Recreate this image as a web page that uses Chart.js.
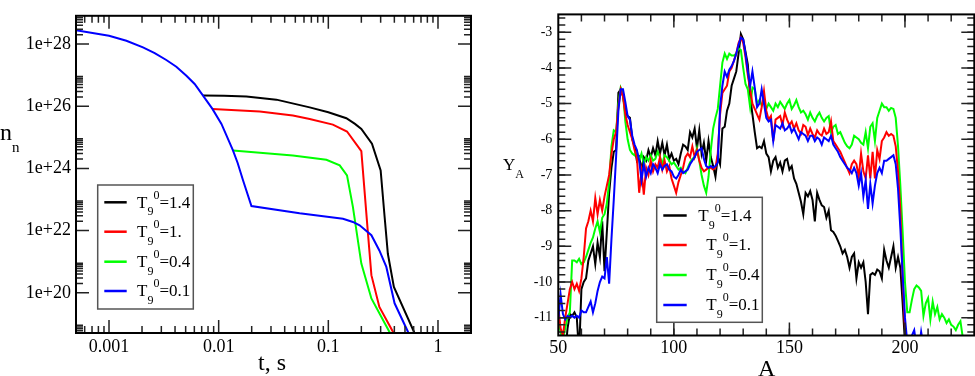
<!DOCTYPE html>
<html>
<head>
<meta charset="utf-8">
<script src="https://cdn.jsdelivr.net/npm/chart.js@4.4.0/dist/chart.umd.min.js"></script>
<style>
  body { margin: 0; background: #fff; }
  #left { position: absolute; left: 0; top: 0; }
  #right { position: absolute; left: 480px; top: 0; }
</style>
</head>
<body>
<canvas id="left" width="480" height="376"></canvas>
<canvas id="right" width="495" height="376"></canvas>
<script>
// ---- data: left panel, neutron density n_n vs time t (s) ----
var tBlack = [7.2e-3, 1.12e-2, 1.79e-2, 3.36e-2, 6.76e-2, 0.1, 0.146, 0.175, 0.2, 0.25, 0.3, 0.326, 0.349, 0.396, 0.612, 0.7];
var nBlack = [2.2e26, 2.18e26, 2.04e26, 1.63e26, 9.2e25, 6.4e25, 4.1e25, 2.7e25, 1.87e25, 6.2e24, 8.6e23, 2.8e22, 1.8e21, 1.55e20, 5e18, 2e18];
var tRed = [8.77e-3, 2.37e-2, 4.75e-2, 6.76e-2, 0.11, 0.148, 0.2, 0.23, 0.247, 0.292, 0.388, 0.45];
var nRed = [8.2e25, 6.8e25, 5.0e25, 3.9e25, 2.57e25, 1.54e25, 3.6e24, 7.9e21, 3.7e20, 3.5e19, 5.6e18, 1.5e18];
var tGreen = [1.35e-2, 4.75e-2, 0.096, 0.127, 0.148, 0.1675, 0.2, 0.247, 0.36, 0.42];
var nGreen = [3.8e24, 2.6e24, 1.9e24, 1.25e24, 6e23, 5.8e22, 8.7e20, 6.6e19, 5.6e18, 1.5e18];
var tBlue = [5e-4, 1.0e-3, 1.44e-3, 2.04e-3, 2.61e-3, 3.33e-3, 4.11e-3, 5.08e-3, 6.04e-3, 7.2e-3, 8.77e-3, 1.06e-2, 1.35e-2, 1.49e-2, 1.67e-2, 1.99e-2, 5.47e-2, 0.136, 0.1675, 0.193, 0.247, 0.292, 0.338, 0.402, 0.532, 0.6];
var nBlue = [2.8e28, 1.85e28, 1.28e28, 7.8e27, 5.1e27, 3.07e27, 1.87e27, 9.6e26, 5.2e26, 2.19e26, 8.2e25, 2.7e25, 3.8e24, 1.5e24, 4.1e23, 6.2e22, 3.6e22, 2.4e22, 1.9e22, 1.48e22, 7.1e21, 2.3e21, 6.8e20, 4.6e19, 5.6e18, 2.3e18];

// ---- data: right panel, abundance Y_A (log) vs mass number A ----
var massNumbers = [50, 51, 52, 53, 54, 55, 56, 57, 58, 59, 60, 61, 62, 63, 64, 65, 66, 67, 68, 69,
  70, 71, 72, 73, 74, 75, 76, 77, 78, 79, 80, 81, 82, 83, 84, 85, 86, 87, 88, 89,
  90, 91, 92, 93, 94, 95, 96, 97, 98, 99, 100, 101, 102, 103, 104, 105, 106, 107, 108, 109,
  110, 111, 112, 113, 114, 115, 116, 117, 118, 119, 120, 121, 122, 123, 124, 125, 126, 127, 128, 129,
  130, 131, 132, 133, 134, 135, 136, 137, 138, 139, 140, 141, 142, 143, 144, 145, 146, 147, 148, 149,
  150, 151, 152, 153, 154, 155, 156, 157, 158, 159, 160, 161, 162, 163, 164, 165, 166, 167, 168, 169,
  170, 171, 172, 173, 174, 175, 176, 177, 178, 179, 180, 181, 182, 183, 184, 185, 186, 187, 188, 189,
  190, 191, 192, 193, 194, 195, 196, 197, 198, 199, 200, 201, 202, 203, 204, 205, 206, 207, 208, 209,
  210, 211, 212, 213, 214, 215, 216, 217, 218, 219, 220, 221, 222, 223, 224, 225, 226];
var yBlack = [-12.0, -11.6, -12.0, -12.0, -11.3, -10.9, -10.95, -10.85, -11.0, -12.0,
  -10.2, -10.0, -9.9, -9.4, -9.2, -9.0, -9.5, -8.9, -9.3, -8.3,
  -9.7, -8.6, -7.5, -6.8, -6.35, -6.3, -4.7, -4.6, -4.8, -5.2,
  -5.35, -5.4, -6.0, -6.2, -6.6, -6.5, -6.85, -6.5, -6.6, -6.3,
  -6.5, -6.25, -6.45, -6.05, -6.4, -6.1, -6.45, -6.15, -6.55, -6.4,
  -6.6, -6.55, -6.7, -6.4, -6.15, -6.2, -6.3, -5.8, -5.95, -5.7,
  -6.25, -5.75, -6.4, -6.1, -6.6, -6.05, -6.5, -6.75, -7.05, -6.5,
  -6.7, -5.7, -5.65, -5.2, -5.0, -4.5, -4.3, -4.1, -3.6, -3.05,
  -3.2, -3.55, -3.9, -4.8, -5.3, -5.8, -6.25, -6.2, -6.25, -6.05,
  -6.4, -6.5, -6.9, -6.6, -6.5, -6.8, -6.65, -6.9, -6.6, -6.55,
  -6.85, -6.75, -7.1, -7.25, -7.5, -7.75, -8.1, -7.5, -7.6, -7.45,
  -7.7, -8.3, -7.5, -7.7, -7.85, -7.9, -8.2, -8.0, -8.55, -8.6,
  -8.7, -8.85, -9.0, -9.2, -9.1, -9.3, -9.6, -9.3, -9.2, -9.9,
  -9.45, -9.6, -9.45, -10.0, -10.9, -9.8, -9.75, -9.8, -9.65, -9.7,
  -9.9, -9.1, -9.4, -9.6, -9.3, -9.0, -9.6, -9.3, -9.6, -10.6,
  -11.7, -12.5];
var yRed = [-10.7, -11.3, -11.5, -11.0, -10.6, -10.2, -10.0, -10.2, -10.05, -10.25,
  -9.9, -9.3, -8.5, -8.3, -8.0, -8.3, -7.65, -8.1, -7.7, -8.0,
  -7.6, -7.3, -7.0, -6.4, -6.0, -5.8, -5.1, -4.6, -4.8, -5.3,
  -5.6, -5.8, -6.0, -6.3, -6.5, -7.5, -6.9, -7.55, -6.8, -7.0,
  -6.6, -6.9, -6.7, -6.8, -6.5, -6.85, -6.6, -6.9, -6.75, -7.1,
  -7.3, -7.5, -7.2, -7.0, -6.8, -6.5, -6.4, -6.5, -6.2, -6.5,
  -6.3, -6.6, -6.8, -6.9, -6.85, -6.8, -6.8, -6.85, -6.8, -6.4,
  -5.3, -4.7, -4.6, -4.5, -4.1, -4.0, -3.8, -3.6, -3.3, -3.15,
  -3.3, -3.7, -4.2, -4.6, -5.0, -5.15, -5.3, -5.45, -5.1, -4.65,
  -5.2, -5.45, -5.35, -6.05, -5.45, -5.4, -5.35, -5.6, -5.25, -5.45,
  -5.6, -5.5, -5.7, -5.55, -5.75, -5.85, -5.6, -5.65, -5.88, -5.7,
  -5.85, -5.95, -5.75, -5.85, -5.9, -5.7, -5.85, -5.8, -5.5, -6.05,
  -6.15, -6.25, -6.35, -6.5, -6.65, -6.8, -6.95, -6.7, -6.6, -6.7,
  -7.05, -6.4, -6.9, -7.1, -6.45, -7.1, -6.35, -7.1, -6.3, -6.55,
  -6.05, -5.95, -5.8, -5.9, -5.85, -5.9, -6.2, -6.9, -8.0, -9.9,
  -11.3, -12.5];
var yGreen = [-11.1, -11.4, -11.6, -11.3, -11.0, -10.85, -9.4, -9.4, -9.45, -9.35,
  -9.5, -9.45, -9.3, -9.1, -8.9, -8.75, -8.5, -8.3, -8.6, -8.2,
  -8.1, -7.8, -7.2, -6.2, -5.75, -5.8, -5.0, -4.55, -4.7, -5.5,
  -6.0, -6.3, -6.4, -6.45, -6.35, -6.6, -6.4, -6.7, -6.5, -6.6,
  -6.45, -6.6, -6.55, -6.35, -6.5, -6.7, -6.45, -6.5, -6.6, -6.7,
  -6.65, -6.75, -6.85, -6.8, -6.9, -6.95, -6.8, -6.65, -6.55, -6.5,
  -6.25, -6.6, -7.0, -7.3, -7.5, -7.05, -6.3, -5.7, -5.4, -5.15,
  -4.5, -3.85, -3.6, -3.75, -3.6, -3.65, -3.65, -3.6, -3.45, -3.5,
  -4.0, -4.45, -4.6, -5.1, -4.55, -4.6, -5.0, -4.9, -5.05, -4.95,
  -5.15, -5.0, -5.1, -5.2, -5.0, -5.1, -4.95, -5.05, -5.15, -5.0,
  -4.9, -5.15, -5.05, -4.9, -5.1, -5.25, -5.2, -5.3, -5.45, -5.25,
  -5.4, -5.5, -5.35, -5.25, -5.4, -5.5, -5.4, -5.35, -5.8, -5.65,
  -5.6, -5.85, -5.8, -5.95, -6.1, -6.2, -6.25, -6.15, -5.9, -5.95,
  -6.0, -6.1, -6.15, -5.8, -6.25, -5.65, -5.55, -6.05, -5.4, -5.2,
  -5.0, -5.1, -5.1, -5.2, -5.12, -5.15, -5.4, -6.2, -7.3, -8.6,
  -10.0, -10.85, -10.85, -10.5, -10.2, -10.1, -10.15, -10.25, -10.95, -10.6,
  -10.45, -11.05, -10.55, -10.9, -10.7, -11.05, -10.9, -11.0, -11.15, -11.05,
  -11.2, -11.25, -11.35, -11.2, -11.1, -11.55, -11.7];
var yBlue = [-11.05, -10.35, -10.9, -11.05, -10.95, -11.0, -10.95, -11.0, -10.95, -11.0,
  -10.8, -10.85, -10.85, -10.7, -10.55, -10.85, -10.6, -10.25, -10.0, -9.85,
  -9.9, -9.3, -10.05, -8.8, -7.7, -6.5, -5.2, -4.6, -4.6, -4.95,
  -5.35, -5.45, -5.9, -6.15, -6.3, -6.6, -7.15, -6.7, -7.05, -6.8,
  -6.95, -6.7, -6.8, -6.95, -6.7, -6.85, -6.75, -6.7, -6.85, -6.9,
  -7.05, -7.1, -7.0, -6.85, -6.95, -6.9, -6.85, -6.7, -6.6, -6.5,
  -6.35, -6.3, -6.25, -6.55, -6.75, -6.8, -6.75, -6.8, -6.75, -6.65,
  -5.1, -4.5, -4.1, -4.25, -4.05, -3.95, -3.8, -3.6, -3.35, -3.15,
  -3.2, -3.6, -4.1, -4.5, -4.1, -4.55, -5.1, -5.0, -4.6, -5.0,
  -5.4, -5.5, -5.45, -6.05, -5.6, -5.65, -5.7, -5.55, -5.75, -5.7,
  -5.6, -5.8, -5.7, -5.85, -6.0, -5.8, -5.85, -5.9, -6.05, -5.9,
  -5.9, -6.05, -5.95, -6.0, -6.15, -5.95, -6.0, -6.05, -5.9, -6.15,
  -6.25, -6.35, -6.5, -6.6, -6.7, -6.8, -6.85, -6.95, -6.8, -6.95,
  -7.3, -6.95, -7.6, -7.15, -7.95, -7.25, -7.8, -7.3, -6.95, -6.8,
  -6.95, -6.6, -6.6, -6.55, -6.5, -6.45, -6.7, -7.4, -8.5, -9.8,
  -11.0, -11.7, -11.8, -11.5, -11.35, -11.8, -11.9, -11.4, -11.8];

// legend / axis labels
var tempLabels = ['1.4', '1.', '0.4', '0.1'];
var seriesColors = ['#000000', '#ff0000', '#00ff00', '#0000ff'];
var leftXTicks = [0.001, 0.01, 0.1, 1];
var leftYTicks = [1e20, 1e22, 1e24, 1e26, 1e28];
var rightXTicks = [50, 100, 150, 200];
var rightYTicks = [-11, -10, -9, -8, -7, -6, -5, -4, -3];

var FONT = '"Liberation Serif", "Times New Roman", serif';

// minor tick positions for the log axes
function logMinors(fromExp, toExp, step) {
  var out = [];
  for (var e = fromExp; e <= toExp; e += step) {
    for (var k = 2; k <= 9; k++) out.push(k * Math.pow(10, e));
  }
  return out;
}
function linMinors(a, b, step) {
  var out = [];
  for (var v = a; v <= b + 1e-9; v += step) out.push(Math.round(v * 100) / 100);
  return out;
}

function drawRich(ctx, x, y, parts) {
  var cx = x;
  parts.forEach(function (p) {
    ctx.font = p[1] + 'px ' + FONT;
    ctx.fillText(p[0], cx, y + p[2]);
    cx += ctx.measureText(p[0]).width;
  });
}

// frame + inward ticks on all four sides
var frameTicks = {
  id: 'frameTicks',
  afterDatasetsDraw: function (chart, args, opts) {
    var ctx = chart.ctx, a = chart.chartArea;
    var xs = chart.scales.x, ys = chart.scales.y;
    ctx.save();
    ctx.strokeStyle = '#222';
    ctx.lineWidth = 1.5;
    function tx(v, len) {
      var p = xs.getPixelForValue(v);
      if (p < a.left + 1 || p > a.right - 1) return;
      ctx.beginPath();
      ctx.moveTo(p, a.bottom); ctx.lineTo(p, a.bottom - len);
      ctx.moveTo(p, a.top); ctx.lineTo(p, a.top + len);
      ctx.stroke();
    }
    function ty(v, len) {
      var p = ys.getPixelForValue(v);
      if (p < a.top + 1 || p > a.bottom - 1) return;
      ctx.beginPath();
      ctx.moveTo(a.left, p); ctx.lineTo(a.left + len, p);
      ctx.moveTo(a.right, p); ctx.lineTo(a.right - len, p);
      ctx.stroke();
    }
    opts.xMinor.forEach(function (v) { tx(v, opts.minorLen); });
    opts.xMajor.forEach(function (v) { tx(v, opts.majorLen); });
    opts.yMinor.forEach(function (v) { ty(v, opts.minorLen); });
    opts.yMajor.forEach(function (v) { ty(v, opts.majorLen); });
    ctx.strokeStyle = '#000';
    ctx.lineWidth = 2;
    ctx.strokeRect(a.left, a.top, a.right - a.left, a.bottom - a.top);
    ctx.restore();
  }
};

// boxed legend with T_9^0 labels, plus axis titles
var annotate = {
  id: 'annotate',
  afterDraw: function (chart, args, opts) {
    var ctx = chart.ctx;
    ctx.save();
    var b = opts.box;
    ctx.fillStyle = '#fff';
    ctx.fillRect(b[0], b[1], b[2], b[3]);
    ctx.strokeStyle = '#555';
    ctx.lineWidth = 1.5;
    ctx.strokeRect(b[0], b[1], b[2], b[3]);
    ctx.textAlign = 'left';
    ctx.textBaseline = 'alphabetic';
    opts.rows.forEach(function (ry, i) {
      ctx.strokeStyle = seriesColors[i];
      ctx.lineWidth = 2.5;
      ctx.beginPath();
      ctx.moveTo(opts.lineX[0], ry);
      ctx.lineTo(opts.lineX[1], ry);
      ctx.stroke();
      ctx.fillStyle = '#000';
      drawRich(ctx, opts.textX[i], ry + 5.3, [['T', 17, 0], ['9', 12, 7.7], ['0', 12, -9], ['=' + tempLabels[i], 17, 0]]);
    });
    ctx.fillStyle = '#000';
    opts.titles.forEach(function (t) { drawRich(ctx, t.x, t.y, t.parts); });
    ctx.restore();
  }
};

function pointsFrom(xs, ys) {
  var out = [];
  ys.forEach(function (v, i) { out.push({ x: xs[i], y: v }); });
  return out;
}

function lineSet(data, color) {
  return { data: data, borderColor: color, borderWidth: 2, pointRadius: 0, tension: 0, fill: false };
}

// ---------------- left chart ----------------
new Chart(document.getElementById('left'), {
  type: 'line',
  data: {
    datasets: [
      lineSet(pointsFrom(tBlue, nBlue), seriesColors[3]),
      lineSet(pointsFrom(tGreen, nGreen), seriesColors[2]),
      lineSet(pointsFrom(tRed, nRed), seriesColors[1]),
      lineSet(pointsFrom(tBlack, nBlack), seriesColors[0])
    ]
  },
  options: {
    responsive: false,
    animation: false,
    devicePixelRatio: 1,
    events: [],
    layout: { padding: { top: 15, right: 9, left: 0, bottom: 0 } },
    plugins: {
      legend: { display: false },
      tooltip: { enabled: false },
      frameTicks: {
        xMajor: leftXTicks, xMinor: logMinors(-4, 0, 1),
        yMajor: leftYTicks, yMinor: logMinors(18, 28, 2),
        majorLen: 13, minorLen: 7
      },
      annotate: {
        box: [97.7, 185, 95.6, 124],
        lineX: [104.3, 126.7],
        textX: [137, 137, 137, 137],
        rows: [202.3, 231.7, 261.7, 291],
        titles: [
          { x: 0, y: 140, parts: [['n', 24, 0], ['n', 15, 12]] },
          { x: 258, y: 370, parts: [['t, s', 24, 0]] }
        ]
      }
    },
    scales: {
      x: {
        type: 'logarithmic', min: 0.0005, max: 2,
        grid: { display: false, drawTicks: false }, border: { display: false },
        afterBuildTicks: function (s) { s.ticks = leftXTicks.map(function (v) { return { value: v }; }); },
        afterFit: function (s) { s.height = 43; },
        ticks: {
          autoSkip: false, maxRotation: 0, padding: 3, color: '#000',
          font: { family: FONT, size: 18 },
          callback: function (v) { return String(v); }
        }
      },
      y: {
        type: 'logarithmic', min: 5.1e18, max: 8.1e28,
        grid: { display: false, drawTicks: false }, border: { display: false },
        afterBuildTicks: function (s) { s.ticks = leftYTicks.map(function (v) { return { value: v }; }); },
        afterFit: function (s) { s.width = 76; },
        ticks: {
          autoSkip: false, padding: 5, color: '#000',
          font: { family: FONT, size: 18 },
          callback: function (v) { return '1e+' + Math.round(Math.log10(v)); }
        }
      }
    }
  },
  plugins: [frameTicks, annotate]
});

// ---------------- right chart ----------------
new Chart(document.getElementById('right'), {
  type: 'line',
  data: {
    datasets: [
      lineSet(pointsFrom(massNumbers, yBlue), seriesColors[3]),
      lineSet(pointsFrom(massNumbers, yRed), seriesColors[1]),
      lineSet(pointsFrom(massNumbers, yGreen), seriesColors[2]),
      lineSet(pointsFrom(massNumbers, yBlack), seriesColors[0])
    ]
  },
  options: {
    responsive: false,
    animation: false,
    devicePixelRatio: 1,
    events: [],
    layout: { padding: { top: 1, right: 0.7, left: 0, bottom: 0 } },
    plugins: {
      legend: { display: false },
      tooltip: { enabled: false },
      frameTicks: {
        xMajor: rightXTicks, xMinor: linMinors(50, 230, 10),
        yMajor: rightYTicks, yMinor: linMinors(-11.4, -2.6, 0.2),
        majorLen: 13, minorLen: 7
      },
      annotate: {
        box: [176.7, 197.3, 105.6, 125],
        lineX: [183.3, 206.7],
        textX: [218.3, 226.3, 226.3, 226.3],
        rows: [215.5, 245, 275, 305],
        titles: [
          { x: 23, y: 170, parts: [['Y', 17, 0], ['A', 12, 8]] },
          { x: 278, y: 376, parts: [['A', 24, 0]] }
        ]
      }
    },
    scales: {
      x: {
        type: 'linear', min: 50, max: 230,
        grid: { display: false, drawTicks: false }, border: { display: false },
        afterBuildTicks: function (s) { s.ticks = rightXTicks.map(function (v) { return { value: v }; }); },
        afterFit: function (s) { s.height = 40.5; },
        ticks: {
          autoSkip: false, maxRotation: 0, padding: 2, color: '#000',
          font: { family: FONT, size: 18 },
          callback: function (v) { return String(v); }
        }
      },
      y: {
        type: 'linear', min: -11.5, max: -2.5,
        grid: { display: false, drawTicks: false }, border: { display: false },
        afterBuildTicks: function (s) { s.ticks = rightYTicks.map(function (v) { return { value: v }; }); },
        afterFit: function (s) { s.width = 78.3; },
        ticks: {
          autoSkip: false, padding: 6, color: '#000',
          font: { family: FONT, size: 14 },
          callback: function (v) { return String(v); }
        }
      }
    }
  },
  plugins: [frameTicks, annotate]
});
</script>
</body>
</html>
